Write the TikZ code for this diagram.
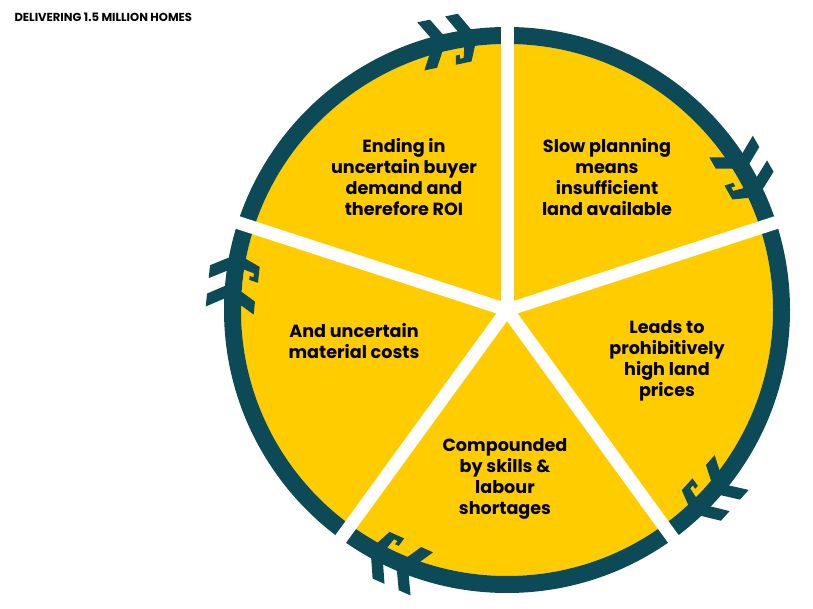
\documentclass[tikz,border=0pt]{standalone}
\usepackage{fontspec}
\setmainfont{Poppins}
\definecolor{ringteal}{RGB}{12,74,87}
\definecolor{sectoryellow}{RGB}{255,204,0}
\tikzset{
    sectorlabel/.style={align=center,text=black,font=\bfseries\fontsize{17.6}{21}\selectfont},
    headline/.style={anchor=west,text=black,font=\bfseries\fontsize{11.6}{13}\selectfont},
}
\begin{document}
\begin{tikzpicture}[x=1pt,y=1pt]
    \useasboundingbox (-507,-299) rectangle (306,310);
    \fill[white] (-507,-299) rectangle (306,310);

    % yellow disc and ring
    \fill[sectoryellow] (0,0) circle (266);
    \fill[ringteal,even odd rule] (0,0) circle (283) (0,0) circle (266);

    % fletchings on the ring
    \foreach \a in {102,30,-42,-114,174} {
        \begin{scope}[shift={(\a:274.5)},rotate=\a]
            \fill[ringteal] (4,3) -- (4,16) -- (25.5,28) -- (25.5,15) -- cycle;
            \fill[ringteal] (4,-25) -- (4,-12) -- (25.5,-0.5) -- (25.5,-13.5) -- cycle;
            \fill[ringteal] (-4,7) -- (-4,20) -- (-23,31) -- (-23,18) -- cycle;
            \fill[ringteal] (-4,-26) -- (-24,-17) -- (-24,-1) -- (-15,-3) -- (-15,-7)
                -- (-19,-6) -- (-19,-10) -- (-4,-14) -- cycle;
        \end{scope}
    }

    % white gaps between the sectors
    \foreach \a in {90,18,-54,-126,162}
        \draw[white,line width=13] (0,0) -- (\a:292);

    % labels
    \node[headline] (title) at (-496,293) {DELIVERING 1.5 MILLION HOMES};
    \node[sectorlabel] (ending) at (-103,132.5) {Ending in\\uncertain buyer\\demand and\\therefore ROI};
    \node[sectorlabel] (planning) at (100,132.5) {Slow planning\\means\\insufficient\\land available};
    \node[sectorlabel] (prices) at (160,-51) {Leads to\\prohibitively\\high land\\prices};
    \node[sectorlabel] (skills) at (-2,-169) {Compounded\\by skills \&\\labour\\shortages};
    \node[sectorlabel] (material) at (-153,-31) {And uncertain\\material costs};
\end{tikzpicture}
\end{document}
